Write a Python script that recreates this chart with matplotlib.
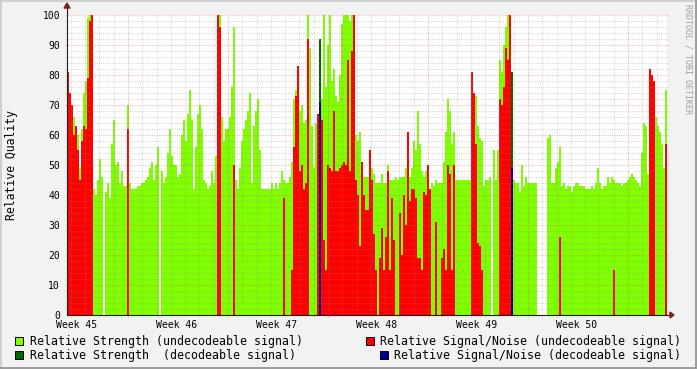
import matplotlib.pyplot as plt
from matplotlib.patches import Rectangle, Polygon
import numpy as np

# one value per 2-pixel column (0.02 week), six weeks
strength_undec = (
    [60, 55, 64, 66, 63, 60, 49, 62, 74, 78, 99, 100, 100,
     42, 40, 45, 52, 46, 0, 41, 44, 39, 57, 65, 50, 51, 44, 48, 43, 43,
     70, 44, 42, 42, 42, 43, 43, 44, 44, 45, 46, 49, 51, 45, 50, 56, 0,
     48, 44, 46]
    + [54, 62, 53, 50, 50, 46, 47, 60, 65, 58, 67, 75, 65, 42, 56, 67, 70, 62, 45, 44, 42, 43,
       48, 44, 53, 100, 100, 66, 58, 62, 62, 66, 76, 96, 45, 42, 49, 58, 62, 65, 68, 74, 44, 63,
       68, 72, 55, 42, 42, 42]
    + [42, 42, 44, 42, 44, 42, 44, 48, 45, 44, 44, 46, 51, 72, 75, 65, 68, 70, 64, 65,
       100, 89, 63, 49, 64, 66, 66, 72, 100, 76, 90, 100, 78, 82, 73, 71, 80, 97, 100, 100,
       100, 98, 100, 100, 60, 58, 61, 47, 46, 46]
    + [46, 49, 49, 47, 44, 44, 44, 47, 44, 44, 50, 45, 45, 45, 46, 45, 46, 46, 46, 49, 60, 46,
       49, 58, 55, 68, 57, 48, 46, 48, 50, 41,
       44, 43, 45, 44, 44, 44, 51, 61, 72, 68, 57, 61, 45, 45, 45, 45, 45, 45]
    + [45, 45, 78, 72, 73, 63, 59, 58, 43, 45, 45, 46, 0, 55, 45, 55, 85, 81, 90, 96, 100,
       100, 45, 45, 44, 44, 41, 50, 43, 46, 44, 44, 44, 44, 44, 0, 0, 0, 0, 0, 59, 60, 44, 44,
       49, 51, 56, 43, 44, 42]
    + [43, 43, 41, 43, 44, 44, 43, 43, 43, 42, 42, 42, 43, 42, 44, 49, 44, 42, 43, 43,
       46, 44, 46, 45, 44, 44, 44, 43, 44, 44, 45, 46, 47, 46, 45, 44, 43, 54, 64, 63,
       47, 68, 50, 50, 66, 63, 61, 57, 49, 75]
)

snr_undec = (
    [81, 74, 70, 60, 63, 55, 45, 58, 63, 62, 79, 98, 100] + [0] * 17 + [62] + [0] * 19
    + [0] * 25 + [100, 96] + [0] * 6 + [50] + [0] * 16
    + [0] * 8 + [39] + [0] * 3
    + [15, 56, 73, 83, 48, 50, 42, 44, 92, 0, 0, 0, 0, 67, 67, 65, 25, 15, 50, 49, 48,
       68, 48, 48, 49, 50, 51, 50, 85, 48, 88, 100, 45, 40, 23, 51, 40, 35]
    + [35, 55, 45, 27, 15, 0, 19, 29, 15, 26, 48, 15, 39, 25, 0, 0, 34, 20, 40, 30,
       61, 38, 42, 42, 39, 19, 19, 15, 41, 40, 50, 42, 0, 0, 31, 0, 0, 19, 22, 15,
       50, 47, 15, 50, 0, 0, 0, 0, 0, 0]
    + [0, 0, 81, 74, 57, 24, 23, 15] + [0] * 8 + [72, 70, 76, 89, 85, 100] + [0] * 24 + [26] + [0] * 3
    + [0] * 23 + [15] + [0] * 17 + [82, 80, 78] + [0] * 5 + [57]
)

# decodeable samples are rare: column index and value
dec_cols = [126, 222]
strength_dec = [92, 81]
snr_dec = [71, 49]

week_labels = ["Week 45", "Week 46", "Week 47", "Week 48", "Week 49", "Week 50"]

MONO = "DejaVu Sans Mono"
W, H = 697, 369
col_w = 0.02
x = np.arange(len(strength_undec)) * col_w

fig = plt.figure(figsize=(W / 100, H / 100), dpi=100, facecolor=(0.95, 0.95, 0.95))
ax = fig.add_axes([67 / W, 54 / H, 600 / W, 300 / H])
ax.set_xlim(0, 6)
ax.set_ylim(0, 100)
for s in ax.spines.values():
    s.set_visible(False)

ax.bar(x, strength_undec, width=col_w, align="edge", color="#80FF00", linewidth=0, antialiased=False, zorder=1)
ax.bar(x[dec_cols], strength_dec, width=col_w, align="edge", color="#006600", linewidth=0, antialiased=False, zorder=2)
ax.bar(x, snr_undec, width=col_w, align="edge", color="#FF0000", linewidth=0, antialiased=False, zorder=3)
ax.bar(x[dec_cols], snr_dec, width=col_w, align="edge", color="#000099", linewidth=0, antialiased=False, zorder=4)

# rrdtool style dotted grid on top of data, sticking out 2px
minor_c = (0.56, 0.56, 0.56, 0.32)
major_c = (0.87, 0.31, 0.31, 0.38)
for v in range(2, 101, 2):
    c = major_c if v % 10 == 0 else minor_c
    ax.plot([-0.02, 6.02], [v, v], color=c, lw=0.8, ls=(0, (1, 1)), clip_on=False, zorder=5)
major_x = [0.61 + k for k in range(6)]
minor_x = [0.61 + k / 7 for k in range(-4, 38) if k % 7 and 0 < 0.61 + k / 7 < 6]
for xv in minor_x:
    ax.plot([xv, xv], [-0.67, 100], color=minor_c, lw=0.8, ls=(0, (1, 1)), clip_on=False, zorder=5)
for xv in major_x:
    ax.plot([xv, xv], [-0.67, 100], color=major_c, lw=0.8, ls=(0, (1, 1)), clip_on=False, zorder=5)

# axes and arrows
axis_c = (0.12, 0.12, 0.12)
arrow_c = (0.5, 0.12, 0.12)
ax.plot([0, 0], [0, 102.3], color=axis_c, lw=0.8, clip_on=False, zorder=6)
ax.plot([0, 6.03], [0, 0], color=axis_c, lw=0.8, clip_on=False, zorder=6)
ax.add_patch(Polygon([[-0.03, 102.3], [0.03, 102.3], [0, 104]], closed=True, color=arrow_c, clip_on=False, zorder=7))
ax.add_patch(Polygon([[6.03, -1], [6.03, 1], [6.07, 0]], closed=True, color=arrow_c, clip_on=False, zorder=7))

ax.set_yticks(range(0, 101, 10))
ax.set_yticklabels([str(v) for v in range(0, 101, 10)], fontfamily=MONO, fontsize=7)
ax.tick_params(axis="y", length=0, pad=5)
ax.set_xticks([0.1 + k for k in range(6)])
ax.set_xticklabels(week_labels, fontfamily=MONO, fontsize=7)
ax.tick_params(axis="x", length=0, pad=3.5)

fig.text(12 / W, 1 - 165 / H, "Relative Quality", rotation=90, ha="center", va="center",
         fontfamily=MONO, fontsize=8.3)
fig.text(688 / W, 1 - 4 / H, "RRDTOOL / TOBI OETIKER", rotation=270, ha="center", va="top",
         fontfamily=MONO, fontsize=6, color=(0.62, 0.62, 0.62))

# legend
legend = [
    (15, 341, 30, "#80FF00", "Relative Strength (undecodeable signal)", "left"),
    (15, 355, 30, "#006600", "Relative Strength  (decodeable signal)", "left"),
    (366, 341, 681, "#FF0000", "Relative Signal/Noise (undecodeable signal)", "right"),
    (380, 355, 681, "#000099", "Relative Signal/Noise (decodeable signal)", "right"),
]
for bx, by, tx, c, label, ha in legend:
    fig.add_artist(Rectangle((bx / W, 1 - (by + 4) / H), 8 / W, 8 / H, transform=fig.transFigure,
                             facecolor=c, edgecolor="black", linewidth=0.7))
    fig.text(tx / W, 1 - by / H, label, ha=ha, va="center", fontfamily=MONO, fontsize=8.4)

# shaded frame
fig.add_artist(Rectangle((0, 1 - 2 / H), 1, 2 / H, transform=fig.transFigure, color=(0.81, 0.81, 0.81), lw=0))
fig.add_artist(Rectangle((0, 0), 2 / W, 1, transform=fig.transFigure, color=(0.81, 0.81, 0.81), lw=0))
fig.add_artist(Rectangle((0, 0), 1, 2 / H, transform=fig.transFigure, color=(0.62, 0.62, 0.62), lw=0))
fig.add_artist(Rectangle((1 - 2 / W, 0), 2 / W, 1, transform=fig.transFigure, color=(0.62, 0.62, 0.62), lw=0))

fig.savefig("out.png", dpi=100, facecolor=fig.get_facecolor())
